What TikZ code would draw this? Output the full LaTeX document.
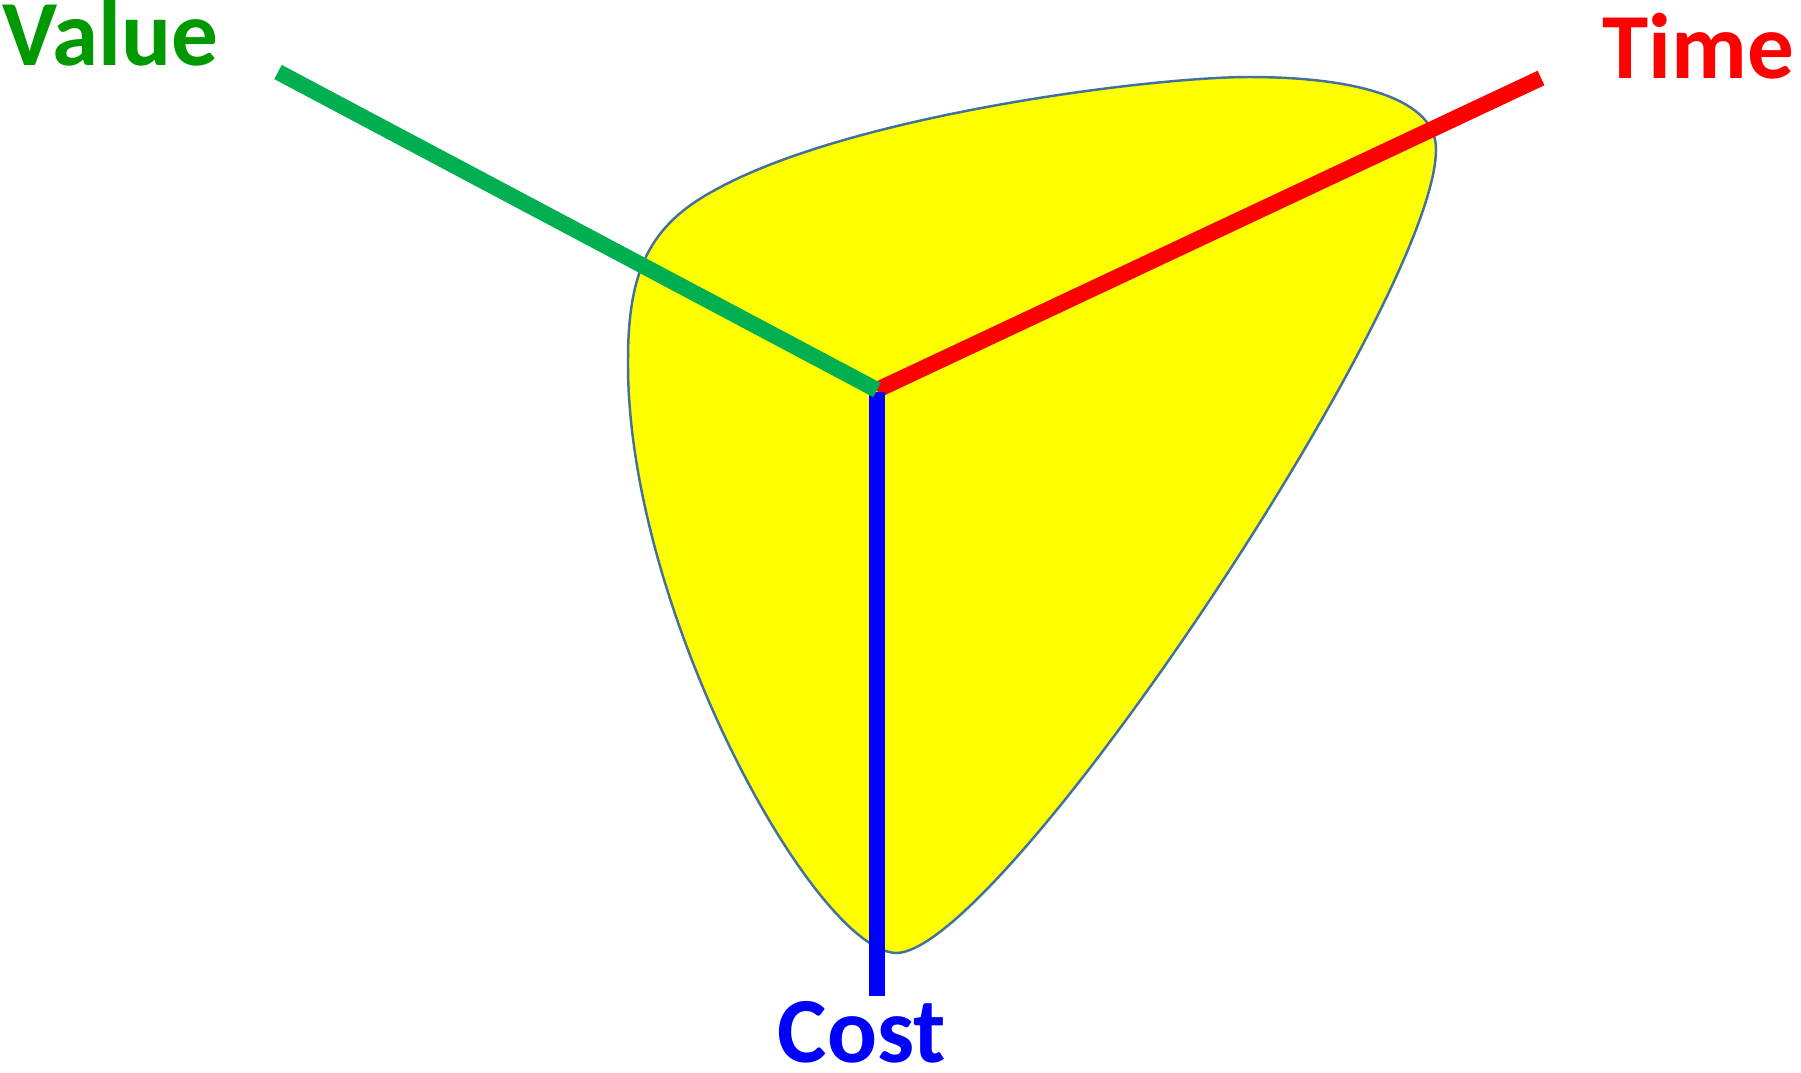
\documentclass[tikz,border=0pt]{standalone}
\usepackage{fontspec}
\setmainfont{Carlito}
\definecolor{blobyellow}{RGB}{255,255,0}
\definecolor{blobline}{RGB}{65,113,156}
\definecolor{valuegreen}{RGB}{0,176,80}
\definecolor{valuetext}{RGB}{0,153,0}
\definecolor{timered}{RGB}{255,0,0}
\definecolor{costblue}{RGB}{0,0,255}
\usepackage{tikz}
\usetikzlibrary{positioning, calc}

\begin{document}
\begin{tikzpicture}[
    x=0.01cm, y=-0.01cm,
    axisline/.style={line width=0.16cm},
    dimlabel/.style={inner sep=0pt, anchor=base west, font=\fontsize{26.5}{30}\selectfont\bfseries}
]
\useasboundingbox (0,0) rectangle (1801,1072);

% Blob
\draw[blobline, line width=0.7pt, fill=blobyellow]
    (896,953) .. controls (815,950) and (626,610) .. (628,360)
    .. controls (628,270) and (650,225) .. (715,190)
    .. controls (850,115) and (1150,77) .. (1249,77)
    .. controls (1360,77) and (1437,100) .. (1436,150)
    .. controls (1435,300) and (1000,953) .. cycle;

% Axis ends
\coordinate (hub) at (877,390);
\coordinate (valueEnd) at (278,72);
\coordinate (timeEnd) at (1541,78);
\coordinate (costEnd) at (877,996);

% Axes
\draw[axisline, timered] (hub) -- (timeEnd);
\draw[axisline, costblue] ($(hub)+(0,2)$) -- (costEnd);
\draw[axisline, valuegreen] (hub) -- (valueEnd);

% Labels
\node[dimlabel, text=valuetext] (value) at (2,65) {Value};
\node[dimlabel, text=timered] (time) at (1602,78) {Time};
\node[dimlabel, text=costblue] (cost) at (777,1062) {Cost};

\end{tikzpicture}
\end{document}
